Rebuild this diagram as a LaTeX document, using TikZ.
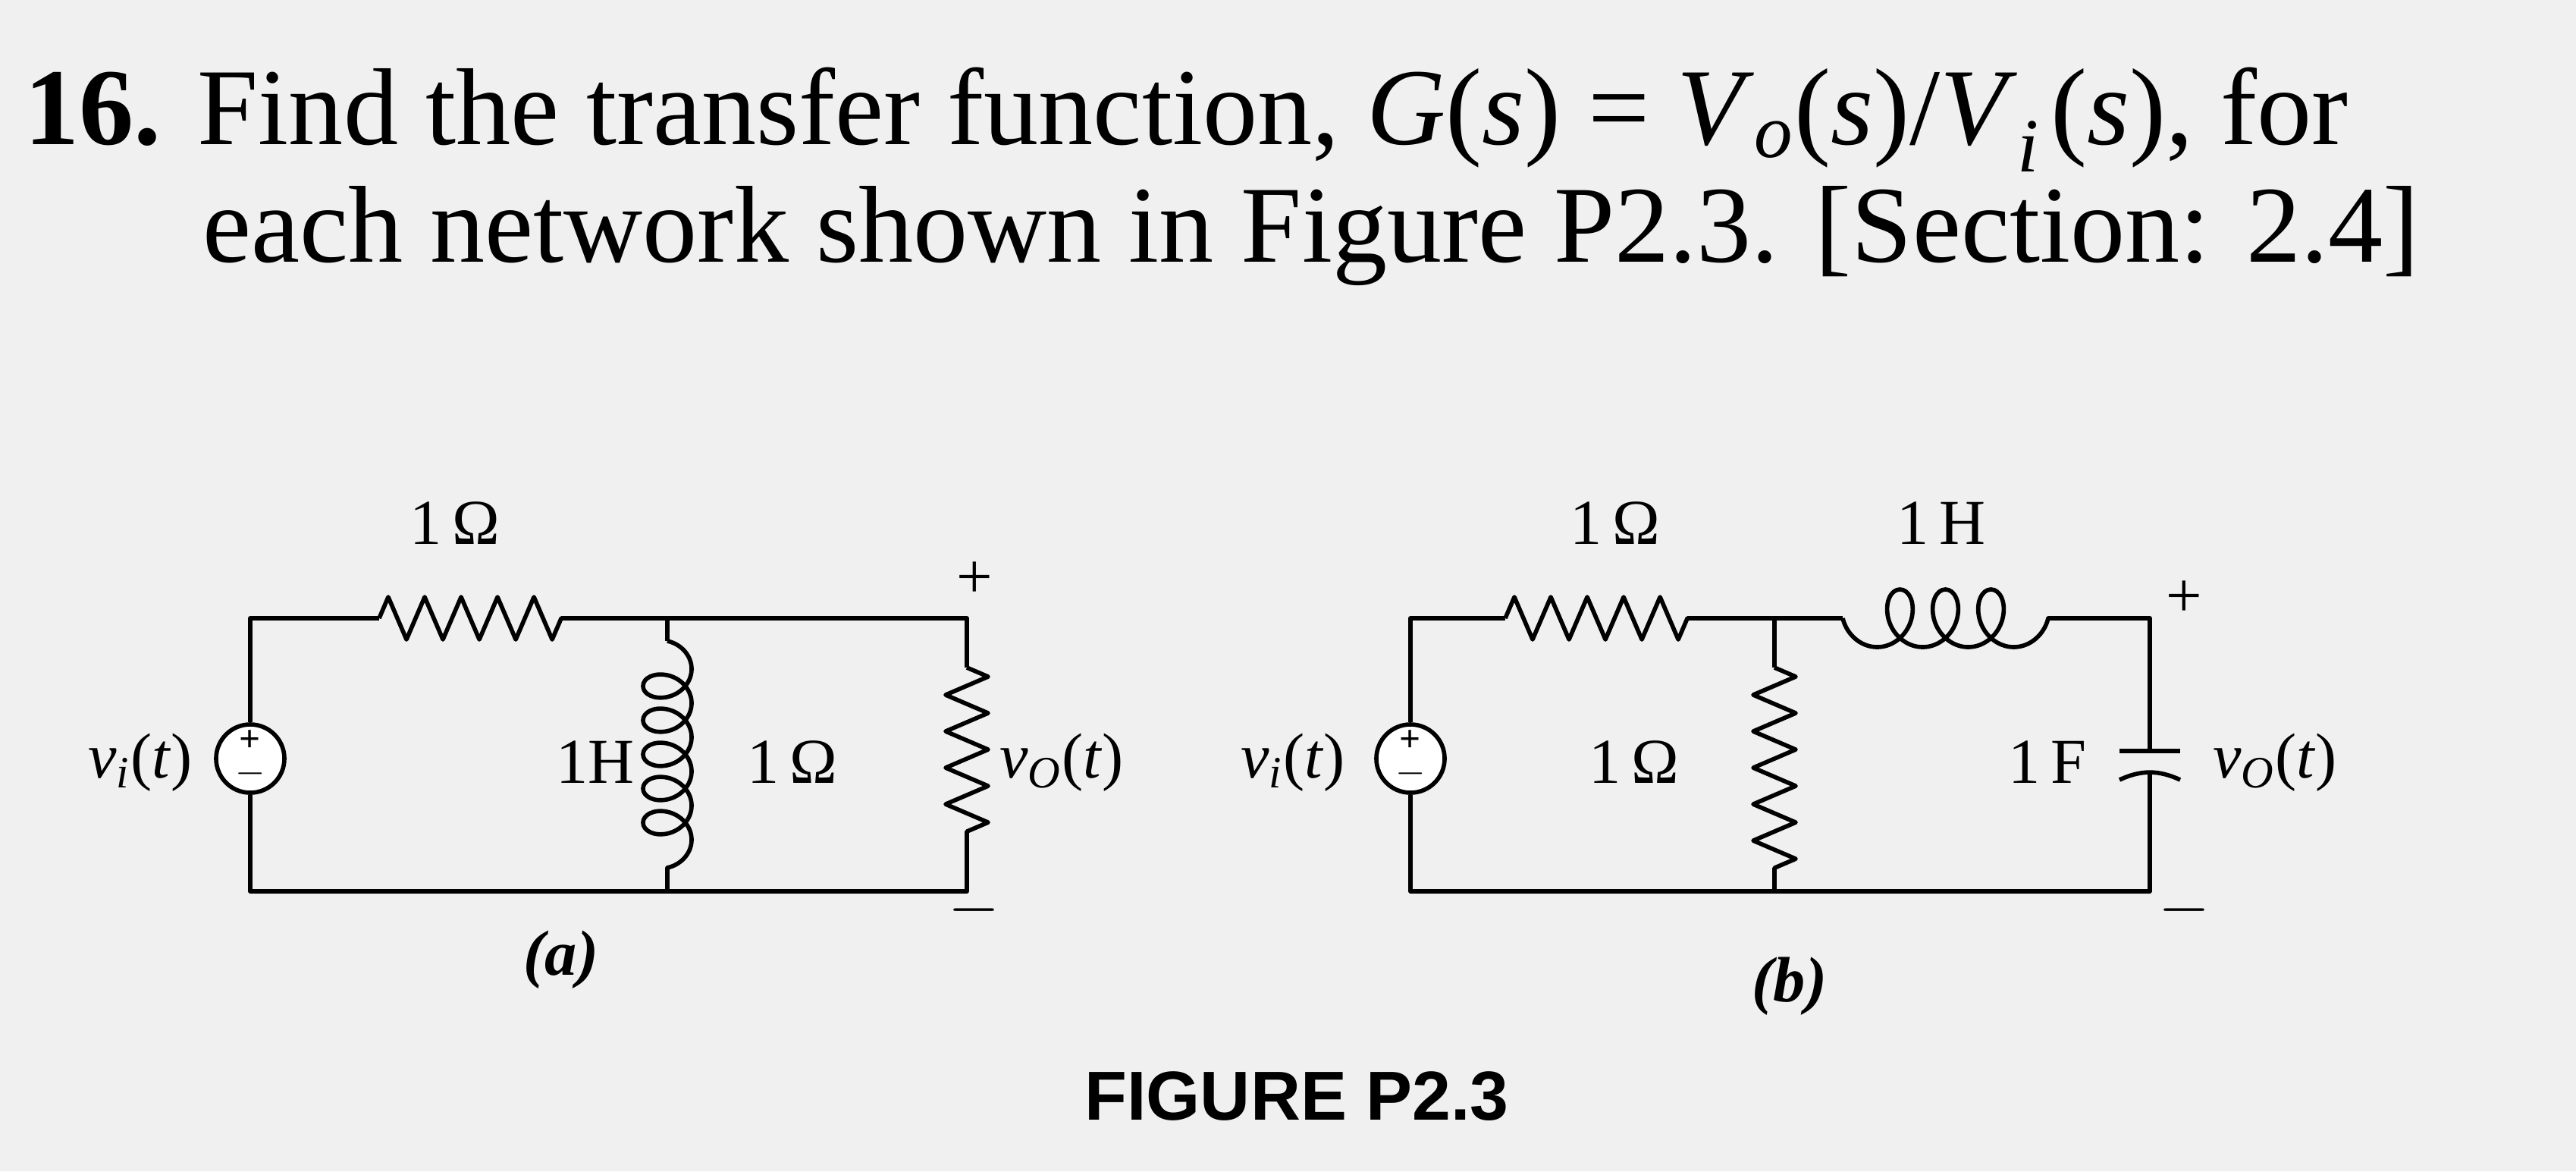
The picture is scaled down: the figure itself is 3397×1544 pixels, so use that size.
\documentclass[tikz,border=0pt]{standalone}
\usepackage{fontspec}
\setmainfont{Liberation Serif}
\setsansfont{Liberation Sans}
\usetikzlibrary{decorations.pathmorphing}
\begin{document}
\begin{tikzpicture}[x=0.01cm,y=-0.01cm,
  wire/.style={line width=1.6pt,line join=round},
  resH/.style={wire,decorate,decoration={zigzag,amplitude=0.28cm,segment length=0.48cm}},
  ind/.style={wire,decorate,decoration={coil,amplitude=0.32cm,segment length=0.45cm,aspect=0.8}},
  lbl/.style={font=\fontsize{24}{26}\selectfont},
  src/.style={circle,draw,line width=1.6pt,minimum size=0.9cm,inner sep=0pt,fill=white,
    font=\fontsize{14}{12}\selectfont\bfseries,align=center},
  ttl/.style={font=\fontsize{41}{46}\selectfont,anchor=base west}]
\fill[gray!12] (0,0) rectangle (3397,1544);
\useasboundingbox (0,0) rectangle (3397,1544);
% title
\node[ttl] (t1) at (20,190) {\textbf{16.} Find the transfer function, \textit{G}(\textit{s}) = \textit{V}\textsubscript{\textit{o}}(\textit{s})/\textit{V}\textsubscript{\textit{i}}\kern4pt(\textit{s}), for};
\node[ttl] (t2) at (255,345) {each network shown in Figure P2.3. [Section: 2.4]};
% ---- circuit (a)
\coordinate (aBL) at (330,1175);
\coordinate (aR1a) at (500,815); \coordinate (aR1b) at (750,815);
\coordinate (aLt) at (880,815); \coordinate (aLb) at (880,1175);
\coordinate (aL1) at (880,845); \coordinate (aL2) at (880,1145);
\coordinate (aRt) at (1275,815); \coordinate (aRb) at (1275,1175);
\coordinate (aR2a) at (1275,880); \coordinate (aR2b) at (1275,1120);
\node[src] (aS) at (330,1000) {+\\$-$};
\draw[wire] (aS.north) |- (aR1a); \draw[resH] (aR1a) -- (aR1b);
\draw[wire] (aR1b) -- (aRt) -- (aR2a);
\draw[resH] (aR2a) -- (aR2b);
\draw[wire] (aR2b) -- (aRb) -- (aBL) -- (aS.south);
\draw[wire] (aLt) -- (aL1); \draw[ind] (aL1) -- (aL2); \draw[wire] (aL2) -- (aLb);
\node[lbl] (la1) at (600,690) {1\,Ω};
\node[lbl] (la2) at (785,1005) {1H};
\node[lbl] (la3) at (1045,1005) {1\,Ω};
\node[lbl] (la4) at (185,1005) {\textit{v}\textsubscript{\textit{i}}(\textit{t})};
\node[lbl] (la5) at (1400,1005) {\textit{v}\textsubscript{\textit{O}}(\textit{t})};
\node[lbl] at (1285,765) {+};
\node[lbl] at (1285,1200) {$-$};
\node[lbl] (capa) at (740,1265) {\textbf{\textit{(a)}}};
% ---- circuit (b)
\node[src] (bS) at (1860,1000) {+\\$-$};
\coordinate (bBL) at (1860,1175);
\coordinate (bR1a) at (1985,815); \coordinate (bR1b) at (2235,815);
\coordinate (bJ) at (2340,815); \coordinate (bJb) at (2340,1175);
\coordinate (bR2a) at (2340,880); \coordinate (bR2b) at (2340,1150);
\coordinate (bL1) at (2430,815); \coordinate (bL2) at (2720,815);
\coordinate (bCt) at (2835,815); \coordinate (bCb) at (2835,1175);
\coordinate (bP1) at (2835,990); \coordinate (bP2) at (2835,1018);
\draw[wire] (bS.north) |- (bR1a); \draw[resH] (bR1a) -- (bR1b);
\draw[wire] (bR1b) -- (bJ) -- (bR2a); \draw[resH] (bR2a) -- (bR2b);
\draw[wire] (bR2b) -- (bJb);
\draw[wire] (bJ) -- (bL1);
\draw[ind,decoration={coil,amplitude=0.38cm,segment length=0.6cm,aspect=0.8,mirror}] (bL1) -- (bL2);
\draw[wire] (bL2) -- (bCt) -- (bP1);
\draw[wire] ([xshift=-0.4cm]bP1) -- ([xshift=0.4cm]bP1);
\draw[wire] ([xshift=-0.4cm,yshift=-0.1cm]bP2) to[bend left=25] ([xshift=0.4cm,yshift=-0.1cm]bP2);
\draw[wire] (bP2) -- (bCb) -- (bBL) -- (bS.south);
\node[lbl] (lb1) at (2130,690) {1\,Ω};
\node[lbl] (lb2) at (2560,690) {1\,H};
\node[lbl] (lb3) at (2155,1005) {1\,Ω};
\node[lbl] (lb4) at (2700,1005) {1\,F};
\node[lbl] (lb5) at (1705,1005) {\textit{v}\textsubscript{\textit{i}}(\textit{t})};
\node[lbl] (lb6) at (3000,1005) {\textit{v}\textsubscript{\textit{O}}(\textit{t})};
\node[lbl] at (2880,790) {+};
\node[lbl] at (2880,1200) {$-$};
\node[lbl] (capb) at (2360,1300) {\textbf{\textit{(b)}}};
\node[font=\sffamily\bfseries\fontsize{26}{28}\selectfont] (fig) at (1710,1445) {FIGURE P2.3};
\end{tikzpicture}
\end{document}
